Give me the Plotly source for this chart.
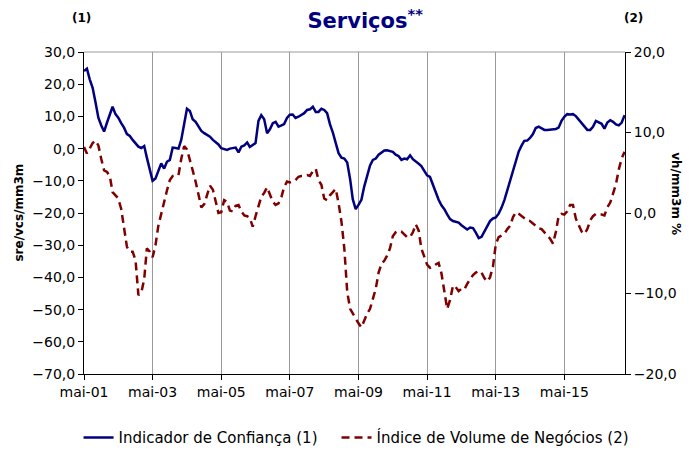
import pandas as pd
import plotly.graph_objects as go

# Monthly data, May 2001 .. Feb 2017
dates = pd.date_range("2001-05-01", periods=190, freq="MS")

confianca = [
    24.1, 24.8, 21.5, 18.9, 14.3, 9.6, 7.2, 5.3, 8.1, 10.7,
    13.0, 10.7, 9.6, 7.9, 6.5, 4.5, 3.9, 2.7, 1.7, 0.6,
    0.2, 0.8, -2.8, -6.4, -10.0, -9.3, -7.2, -4.6, -6.2, -4.1,
    -3.5, 0.3, 0.2, 0.0, 2.7, 7.6, 12.4, 11.7, 9.1, 8.3,
    7.0, 5.5, 4.8, 4.3, 3.7, 2.7, 2.1, 1.3, 0.1, -0.2,
    -0.4, 0.0, 0.1, 0.3, -1.2, 0.6, 1.0, 1.9, 0.5, 1.2,
    1.7, 8.6, 10.4, 9.1, 4.8, 6.0, 7.9, 8.3, 6.8, 7.2,
    7.6, 9.5, 10.5, 10.6, 9.5, 9.9, 10.5, 11.0, 12.0, 12.2,
    13.0, 11.4, 11.4, 12.4, 12.0, 11.0, 7.6, 5.0, 1.7, -1.4,
    -2.8, -3.1, -4.3, -9.5, -15.7, -18.8, -17.5, -15.9, -11.8, -8.3,
    -5.2, -3.5, -3.1, -1.9, -1.2, -0.6, -0.5, -0.8, -1.0, -1.9,
    -2.3, -3.5, -3.1, -3.3, -2.1, -3.3, -3.9, -4.7, -5.4, -6.9,
    -8.3, -8.8, -11.1, -13.9, -15.9, -17.6, -18.8, -20.4, -21.9, -22.5,
    -22.7, -23.0, -23.8, -24.5, -25.1, -24.5, -24.7, -26.1, -27.8, -27.4,
    -25.6, -24.0, -22.5, -21.7, -21.4, -20.2, -18.4, -16.0, -12.9, -10.0,
    -6.6, -3.5, -0.9, 1.0, 2.4, 2.5, 3.3, 4.5, 6.4, 6.8,
    6.3, 5.8, 5.8, 5.9, 6.0, 6.1, 6.5, 8.6, 9.9, 10.7,
    10.6, 10.7, 10.1, 9.1, 8.1, 6.8, 5.8, 5.8, 6.8, 8.6,
    8.1, 7.7, 6.2, 8.1, 8.8, 8.3, 7.5, 7.2, 8.1, 10.4,
]

volume = [
    8.2, 7.4, 8.0, 8.7, 9.0, 8.4, 6.7, 5.3, 5.1, 4.5,
    2.6, 2.2, 1.8, 0.5, -1.9, -4.2, -4.8, -4.8, -5.9, -10.2,
    -9.9, -8.2, -4.4, -4.8, -5.5, -4.0, -1.6, -0.1, 1.6, 2.8,
    4.1, 4.6, 4.7, 4.7, 6.7, 8.3, 7.9, 6.7, 5.3, 3.9,
    2.1, 0.7, 1.1, 2.4, 3.4, 2.9, 1.4, 0.0, 0.1, 1.6,
    1.4, 0.3, 0.2, 0.9, 1.0, 0.2, -0.3, -0.4, -0.6, -1.7,
    -0.4, 0.7, 2.0, 2.5, 3.2, 2.3, 1.4, 1.0, 1.2, 2.0,
    3.2, 3.9, 3.8, 3.9, 4.1, 4.5, 4.6, 4.6, 4.7, 4.6,
    5.2, 5.5, 4.1, 3.5, 1.8, 1.6, 2.2, 2.6, 3.0, 1.2,
    -1.1, -4.4, -9.8, -11.9, -12.5, -13.1, -13.7, -14.2, -13.3, -12.5,
    -11.9, -10.8, -9.4, -7.4, -6.3, -5.9, -5.3, -4.4, -2.9, -2.4,
    -2.2, -2.3, -2.7, -3.0, -3.0, -2.4, -1.4, -2.2, -4.4, -5.3,
    -6.4, -6.8, -6.7, -6.4, -6.2, -7.5, -9.8, -11.9, -10.8, -9.0,
    -9.2, -9.7, -9.4, -9.5, -8.8, -8.2, -7.7, -7.4, -7.2, -7.4,
    -8.1, -8.5, -8.0, -6.7, -3.9, -3.0, -2.8, -2.6, -2.0, -1.6,
    -0.5, 0.1, -0.1, -0.4, -0.6, -0.9, -1.0, -1.3, -1.6, -1.9,
    -2.0, -2.4, -2.7, -3.2, -3.8, -2.3, -0.4, -0.1, -0.2, 0.2,
    1.0, 1.0, -0.7, -1.6, -2.3, -2.6, -2.0, -0.9, -0.4, -0.1,
    -0.2, -0.2, -0.3, 0.7, 1.3, 2.4, 3.6, 5.4, 6.8, 7.6,
]

tick_dates = ["2001-05-01", "2003-05-01", "2005-05-01", "2007-05-01",
              "2009-05-01", "2011-05-01", "2013-05-01", "2015-05-01"]
tick_labels = ["mai-01", "mai-03", "mai-05", "mai-07",
               "mai-09", "mai-11", "mai-13", "mai-15"]

FONT = "DejaVu Sans"
NAVY = "#000080"
DARKRED = "#800000"

fig = go.Figure()
fig.add_trace(go.Scatter(
    x=dates, y=confianca, name="Indicador de Confiança (1)",
    mode="lines", line=dict(color=NAVY, width=2.5), yaxis="y", legend="legend"))
fig.add_trace(go.Scatter(
    x=dates, y=volume, name="Índice de Volume de Negócios (2)",
    mode="lines", line=dict(color=DARKRED, width=2.5, dash="8px,5px"),
    yaxis="y2", legend="legend2"))

legend_common = dict(orientation="h", xref="container", xanchor="left",
                     yref="container", y=0.027, yanchor="middle",
                     font=dict(family=FONT, size=15), bgcolor="rgba(0,0,0,0)")

fig.update_layout(
    width=689, height=450,
    margin=dict(l=84, r=60, t=52, b=76),
    paper_bgcolor="white", plot_bgcolor="white",
    separators=",.",
    font=dict(family=FONT, size=14, color="black"),
    title=dict(text="<b>Serviços</b><sup><b>**</b></sup>", x=0.53, xanchor="center",
               y=0.955, yanchor="middle",
               font=dict(family=FONT, size=21, color=NAVY)),
    xaxis=dict(
        type="date", range=["2001-05-01", "2017-02-05"],
        tickmode="array", tickvals=tick_dates, ticktext=tick_labels,
        showgrid=True, gridcolor="#999999", gridwidth=1,
        showline=True, linecolor="black", linewidth=1,
        ticks="outside", ticklen=5, tickcolor="black",
        tickfont=dict(family=FONT, size=14), zeroline=False,
    ),
    yaxis=dict(
        range=[-70, 30], dtick=10, tickformat=".1f",
        showgrid=False, zeroline=False,
        showline=True, linecolor="black", linewidth=1,
        ticks="outside", ticklen=5, tickcolor="black",
        tickfont=dict(family=FONT, size=14),
    ),
    yaxis2=dict(
        range=[-20, 20], dtick=10, tickformat=".1f",
        overlaying="y", side="right",
        showgrid=False, zeroline=False,
        showline=True, linecolor="black", linewidth=1,
        ticks="outside", ticklen=5, tickcolor="black",
        tickfont=dict(family=FONT, size=14),
    ),
    legend=dict(x=0.114, **legend_common),
    legend2=dict(x=0.4884, **legend_common),
    showlegend=True,
)

# top border of plot area
fig.add_shape(type="line", xref="paper", yref="paper", x0=0, x1=1, y0=1, y1=1,
              line=dict(color="#999999", width=1))

fig.add_annotation(text="<b>(1)</b>", xref="paper", yref="paper",
                   x=-0.0055, y=1.106, xanchor="center", yanchor="middle",
                   showarrow=False, font=dict(family=FONT, size=12))
fig.add_annotation(text="<b>(2)</b>", xref="paper", yref="paper",
                   x=1.0165, y=1.106, xanchor="center", yanchor="middle",
                   showarrow=False, font=dict(family=FONT, size=12))
fig.add_annotation(text="<b>sre/vcs/mm3m</b>", xref="paper", yref="paper",
                   x=-0.121, y=0.5, xanchor="center", yanchor="middle",
                   textangle=-90, showarrow=False,
                   font=dict(family=FONT, size=12))
fig.add_annotation(text="<b>vh/mm3m %</b>", xref="paper", yref="paper",
                   x=1.095, y=0.56, xanchor="center", yanchor="middle",
                   textangle=90, showarrow=False,
                   font=dict(family=FONT, size=12))

fig.write_html("out.html", config={"displayModeBar": False},
               post_script="document.body.style.margin='0';")
